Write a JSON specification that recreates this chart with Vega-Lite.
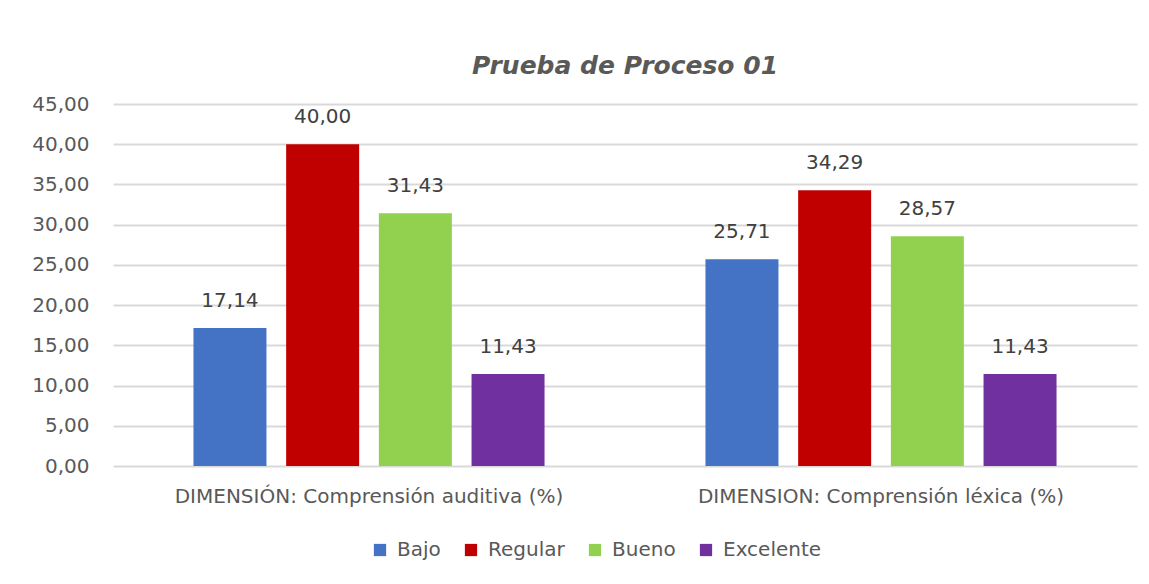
{
  "$schema": "https://vega.github.io/schema/vega-lite/v6.json",
  "autosize": {"type": "none"},
  "padding": {"left": 113, "top": 104, "right": 12, "bottom": 118},
  "width": 1024,
  "height": 362,
  "background": "white",
  "config": {
    "locale": {"number": {"decimal": ",", "thousands": ".", "grouping": [3], "currency": ["", " €"]}},
    "view": {"stroke": null},
    "font": "DejaVu Sans"
  },
  "title": {
    "text": "Prueba de Proceso 01",
    "font": "DejaVu Sans",
    "fontSize": 25,
    "fontStyle": "italic",
    "fontWeight": "bold",
    "color": "#595959",
    "anchor": "middle",
    "offset": 15
  },
  "data": {
    "values": [
      {"dim": "DIMENSIÓN: Comprensión auditiva (%)", "nivel": "Bajo", "valor": 17.14},
      {"dim": "DIMENSIÓN: Comprensión auditiva (%)", "nivel": "Regular", "valor": 40.00},
      {"dim": "DIMENSIÓN: Comprensión auditiva (%)", "nivel": "Bueno", "valor": 31.43},
      {"dim": "DIMENSIÓN: Comprensión auditiva (%)", "nivel": "Excelente", "valor": 11.43},
      {"dim": "DIMENSION: Comprensión léxica (%)", "nivel": "Bajo", "valor": 25.71},
      {"dim": "DIMENSION: Comprensión léxica (%)", "nivel": "Regular", "valor": 34.29},
      {"dim": "DIMENSION: Comprensión léxica (%)", "nivel": "Bueno", "valor": 28.57},
      {"dim": "DIMENSION: Comprensión léxica (%)", "nivel": "Excelente", "valor": 11.43}
    ]
  },
  "encoding": {
    "x": {
      "field": "dim",
      "type": "nominal",
      "sort": null,
      "scale": {"paddingInner": 0, "paddingOuter": 0},
      "axis": {
        "title": null,
        "labelAngle": 0,
        "labelFontSize": 20,
        "labelColor": "#595959",
        "labelPadding": 20,
        "domain": false,
        "ticks": false,
        "labelLimit": 600
      }
    },
    "xOffset": {
      "field": "nivel",
      "type": "nominal",
      "sort": ["Bajo", "Regular", "Bueno", "Excelente"],
      "scale": {"paddingInner": 0.2125, "paddingOuter": 0.868}
    },
    "y": {
      "field": "valor",
      "type": "quantitative",
      "scale": {"domain": [0, 45], "nice": false},
      "axis": {
        "title": null,
        "values": [0, 5, 10, 15, 20, 25, 30, 35, 40, 45],
        "format": ".2f",
        "labelFontSize": 20,
        "labelColor": "#595959",
        "labelPadding": 24,
        "domain": false,
        "ticks": false,
        "gridColor": "#d9d9d9",
        "gridWidth": 2
      }
    }
  },
  "layer": [
    {
      "mark": {"type": "bar"},
      "encoding": {
        "color": {
          "field": "nivel",
          "type": "nominal",
          "sort": ["Bajo", "Regular", "Bueno", "Excelente"],
          "scale": {"domain": ["Bajo", "Regular", "Bueno", "Excelente"], "range": ["#4472C4", "#C00000", "#92D050", "#7030A0"]},
          "legend": {
            "title": null,
            "orient": "none",
            "direction": "horizontal",
            "legendX": 257,
            "legendY": 436,
            "symbolType": "square",
            "symbolSize": 150,
            "symbolStrokeWidth": 0,
            "labelFontSize": 20,
            "labelColor": "#595959",
            "columnPadding": 20,
            "labelOffset": 7
          }
        }
      }
    },
    {
      "mark": {"type": "text", "baseline": "alphabetic", "dy": -21, "fontSize": 20, "color": "#404040"},
      "encoding": {
        "text": {"field": "valor", "type": "quantitative", "format": ".2f"}
      }
    }
  ]
}
